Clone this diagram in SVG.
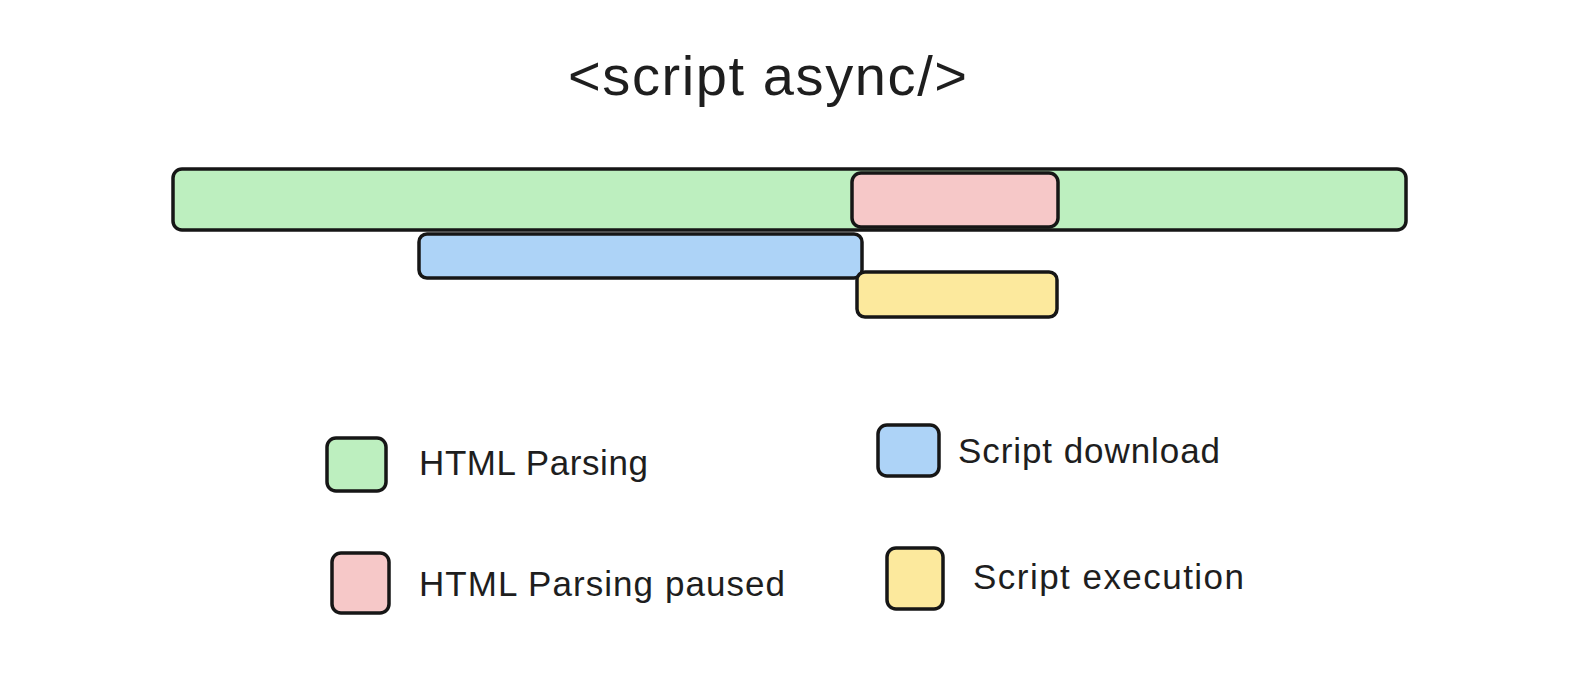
<svg xmlns="http://www.w3.org/2000/svg" width="1588" height="694" viewBox="0 0 1588 694">
<style>
.box{stroke:#161616;stroke-width:3.5;stroke-linejoin:round}
.g{fill:#bdefbf}.p{fill:#f6c8c8}.b{fill:#add3f7}.y{fill:#fce99d}
.t{font-family:"Liberation Sans",Arial,sans-serif;fill:#1e1e1e}
.lbl{font-size:35px}
</style>
<rect width="1588" height="694" fill="#ffffff"/>
<g id="title"><text class="t" x="568" y="95" font-size="56" textLength="399">&lt;script async/&gt;</text></g>
<g id="html-parsing-bar"><rect class="box g" x="173" y="169" width="1233" height="61" rx="9"/></g>
<g id="parsing-paused-bar"><rect class="box p" x="852" y="173" width="206" height="54" rx="9"/></g>
<g id="download-bar"><rect class="box b" x="419" y="234" width="443" height="44" rx="8"/></g>
<g id="execution-bar"><rect class="box y" x="857" y="272" width="200" height="45" rx="8"/></g>
<g id="legend-html-parsing"><rect class="box g" x="327" y="438" width="59" height="53" rx="9"/><text class="t lbl" x="419" y="475" textLength="229">HTML Parsing</text></g>
<g id="legend-parsing-paused"><rect class="box p" x="332" y="553" width="57" height="60" rx="9"/><text class="t lbl" x="419" y="596" textLength="366">HTML Parsing paused</text></g>
<g id="legend-script-download"><rect class="box b" x="878" y="425" width="61" height="51" rx="9"/><text class="t lbl" x="958" y="463" textLength="262">Script download</text></g>
<g id="legend-script-execution"><rect class="box y" x="887" y="548" width="56" height="61" rx="9"/><text class="t lbl" x="973" y="589" textLength="271">Script execution</text></g>
<g id="connectors"></g>
</svg>
